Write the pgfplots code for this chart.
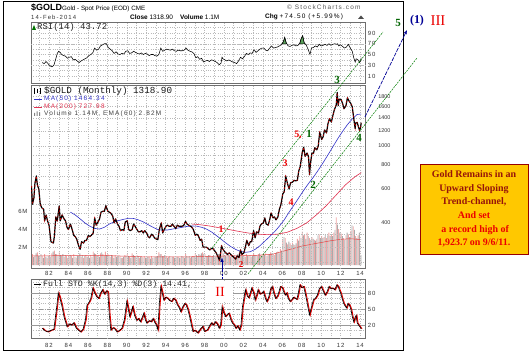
\documentclass[border=0pt]{standalone}
\usepackage{fontspec}
\setmainfont{Liberation Sans}
\newfontfamily\monof{Liberation Mono}
\newfontfamily\lsf[LetterSpace=18]{Liberation Sans}
\newfontfamily\tkf[LetterSpace=15]{Liberation Sans}
\newfontfamily\serifb{Liberation Serif}
\usepackage{pgfplots}
\pgfplotsset{compat=1.18}
\usepackage{pgfplotstable}
\usetikzlibrary{arrows.meta}

\definecolor{maBlue}{RGB}{50,50,200}
\definecolor{maRed}{RGB}{225,50,80}
\definecolor{volPink}{RGB}{240,165,165}
\definecolor{volGray}{RGB}{170,170,170}
\definecolor{emaRed}{RGB}{225,70,70}
\definecolor{annGreen}{RGB}{0,125,0}
\definecolor{lblGreen}{RGB}{0,100,0}
\definecolor{lblRed}{RGB}{235,0,0}
\definecolor{lblBlue}{RGB}{0,0,150}
\definecolor{boxFill}{RGB}{255,200,0}
\definecolor{boxEdge}{RGB}{150,0,0}
\definecolor{darkRed}{RGB}{150,20,10}
\definecolor{rsiGreen}{RGB}{90,160,90}
\definecolor{gridc}{RGB}{185,185,185}
\definecolor{framec}{RGB}{110,110,110}

\pgfplotsset{
 panel/.style={
  scale only axis, width=334bp,
  xmin=1980.148, xmax=2014.51,
  axis line style={framec, line width=0.5pt},
  major tick length=0pt, minor tick length=0pt,
  xtick={1982,1984,...,2014},
  minor xtick={1981,1983,...,2013},
  grid=both,
  major grid style={gridc, dotted, line width=0.4pt},
  minor grid style={gridc, dotted, line width=0.4pt},
  /pgf/number format/assume math mode=true,
  yticklabel pos=right,
  yticklabel style={font=\tkf\fontsize{6}{7}\selectfont, text=black!80, anchor=east, xshift=14bp},
  xticklabels={},
 },
 yearlabels/.style={
  xticklabels={82,84,86,88,90,92,94,96,98,00,02,04,06,08,10,12,14},
  xticklabel style={font=\tkf\fontsize{6}{7}\selectfont, text=black!80}},
}

\pgfplotstableread{
t p
1980.20 620
1980.30 500
1980.45 540
1980.55 640
1980.70 700
1980.80 630
1980.95 600
1981.10 500
1981.25 480
1981.45 470
1981.55 410
1981.70 440
1981.85 410
1982.00 390
1982.20 320
1982.45 315
1982.55 340
1982.70 430
1982.85 410
1983.05 490
1983.15 410
1983.35 440
1983.55 420
1983.70 410
1983.85 380
1984.00 370
1984.20 395
1984.35 375
1984.55 345
1984.70 340
1984.85 330
1985.05 305
1985.20 292
1985.35 320
1985.55 315
1985.70 325
1985.85 325
1986.05 345
1986.20 340
1986.35 345
1986.55 355
1986.70 425
1986.85 390
1987.05 405
1987.20 420
1987.35 455
1987.55 460
1987.70 460
1987.85 492
1988.05 460
1988.20 455
1988.35 450
1988.55 435
1988.70 400
1988.85 420
1989.05 395
1989.20 385
1989.35 365
1989.55 370
1989.70 365
1989.85 405
1990.05 410
1990.20 370
1990.35 365
1990.55 370
1990.70 395
1990.85 385
1991.05 370
1991.20 360
1991.35 360
1991.55 365
1991.70 355
1991.85 365
1992.05 355
1992.20 340
1992.35 335
1992.55 350
1992.70 345
1992.85 335
1993.05 330
1993.20 328
1993.35 370
1993.55 400
1993.70 355
1993.85 370
1994.05 385
1994.20 390
1994.35 385
1994.55 385
1994.70 395
1994.85 385
1995.05 375
1995.20 390
1995.35 385
1995.55 385
1995.70 385
1995.85 388
1996.05 408
1996.20 395
1996.35 390
1996.55 385
1996.70 380
1996.85 370
1997.05 345
1997.20 350
1997.35 345
1997.55 325
1997.70 330
1997.85 300
1998.05 300
1998.20 300
1998.35 295
1998.55 290
1998.70 295
1998.85 295
1999.05 287
1999.20 280
1999.35 270
1999.55 256
1999.75 305
1999.85 295
2000.05 285
2000.20 280
2000.35 275
2000.55 280
2000.70 275
2000.85 270
2001.05 265
2001.20 260
2001.35 270
2001.55 265
2001.70 290
2001.85 275
2002.05 280
2002.20 300
2002.35 325
2002.55 305
2002.70 320
2002.85 320
2003.05 365
2003.20 335
2003.35 360
2003.55 355
2003.70 385
2003.85 395
2004.05 400
2004.20 425
2004.35 395
2004.55 390
2004.70 415
2004.85 450
2005.05 425
2005.20 430
2005.35 415
2005.55 430
2005.70 470
2005.85 495
2006.05 565
2006.20 580
2006.35 700
2006.55 635
2006.70 600
2006.85 645
2007.05 650
2007.20 665
2007.35 660
2007.55 665
2007.70 745
2007.85 785
2008.05 925
2008.20 985
2008.35 885
2008.55 920
2008.70 880
2008.80 710
2008.90 815
2009.05 920
2009.20 915
2009.35 980
2009.55 955
2009.70 1000
2009.85 1180
2010.05 1080
2010.20 1115
2010.35 1210
2010.55 1170
2010.70 1305
2010.85 1385
2011.05 1330
2011.20 1435
2011.35 1535
2011.55 1630
2011.65 1890
2011.75 1620
2011.85 1745
2012.05 1740
2012.20 1660
2012.35 1560
2012.55 1615
2012.70 1775
2012.85 1715
2013.05 1660
2013.20 1595
2013.35 1390
2013.50 1230
2013.55 1315
2013.70 1325
2013.85 1250
2013.95 1205
2014.05 1245
2014.12 1319
}\price

\pgfplotstableread{
t m
1984.20 455
1984.70 440
1985.20 420
1985.70 400
1986.20 385
1986.70 375
1987.20 372
1987.70 380
1988.20 395
1988.70 405
1989.20 412
1989.70 418
1990.20 423
1990.70 422
1991.20 415
1991.70 405
1992.20 392
1992.70 380
1993.20 370
1993.70 367
1994.20 368
1994.70 372
1995.20 376
1995.70 380
1996.20 384
1996.70 386
1997.20 385
1997.70 380
1998.20 372
1998.70 360
1999.20 345
1999.70 330
2000.20 315
2000.70 302
2001.20 292
2001.70 285
2002.20 282
2002.70 284
2003.20 292
2003.70 305
2004.20 322
2004.70 340
2005.20 360
2005.70 385
2006.20 415
2006.70 455
2007.20 495
2007.70 540
2008.20 590
2008.70 640
2009.20 690
2009.70 750
2010.20 820
2010.70 900
2011.20 990
2011.70 1090
2012.20 1190
2012.70 1290
2013.20 1380
2013.70 1455
2014.12 1464
}\maf

\pgfplotstableread{
t m
1996.70 395
1997.50 392
1998.50 386
1999.50 378
2000.50 370
2001.50 362
2002.50 355
2003.50 350
2004.50 348
2005.50 350
2006.50 358
2007.50 375
2008.50 400
2009.50 440
2010.50 490
2011.50 555
2012.50 630
2013.50 695
2014.12 728
}\mas

\pgfplotstableread{
t a b
1980.30 1.2 0.9
1980.55 1.0 1.3
1980.80 1.4 1.0
1981.05 0.9 1.2
1981.30 1.0 0.8
1981.55 1.2 0.9
1981.80 0.8 1.0
1982.05 1.1 0.9
1982.30 1.3 1.5
1982.55 1.6 1.2
1982.80 1.2 1.0
1983.05 1.4 1.1
1983.30 1.0 1.2
1983.55 0.9 1.1
1983.80 1.0 0.8
1984.05 0.9 1.1
1984.30 1.0 0.8
1984.55 1.2 0.9
1984.80 0.8 1.0
1985.05 1.0 1.3
1985.30 0.9 1.1
1985.55 0.8 1.0
1985.80 1.1 0.9
1986.05 1.0 0.8
1986.30 1.1 0.9
1986.55 1.5 1.3
1986.80 1.2 1.0
1987.05 1.1 0.9
1987.30 1.3 1.4
1987.55 1.2 1.0
1987.80 1.5 1.1
1988.05 1.2 1.0
1988.30 0.9 1.1
1988.55 1.0 0.8
1988.80 1.1 0.9
1989.05 0.9 1.0
1989.30 1.0 0.8
1989.55 0.8 0.9
1989.80 1.1 1.0
1990.05 1.2 1.0
1990.30 0.9 0.8
1990.55 1.3 1.1
1990.80 1.0 0.9
1991.05 1.1 1.0
1991.30 0.8 0.9
1991.55 0.9 0.8
1991.80 1.0 0.8
1992.05 0.8 0.9
1992.30 0.9 0.7
1992.55 1.0 0.8
1992.80 0.8 0.9
1993.05 0.9 1.0
1993.30 1.4 1.2
1993.55 1.2 1.0
1993.80 1.0 1.1
1994.05 1.0 0.8
1994.30 0.9 1.0
1994.55 0.8 0.9
1994.80 0.9 0.8
1995.05 0.8 0.9
1995.30 0.9 0.8
1995.55 0.8 1.0
1995.80 0.9 0.8
1996.05 1.2 1.0
1996.30 0.9 1.0
1996.55 0.8 0.9
1996.80 1.0 0.9
1997.05 1.3 1.1
1997.30 1.0 1.2
1997.55 1.1 1.3
1997.80 1.4 1.2
1998.05 1.2 1.0
1998.30 1.0 1.1
1998.55 1.1 0.9
1998.80 1.0 1.1
1999.05 1.0 0.9
1999.30 1.1 1.2
1999.55 1.2 1.0
1999.80 1.6 1.3
2000.05 1.1 1.0
2000.30 0.9 1.1
2000.55 1.0 0.9
2000.80 1.0 1.1
2001.05 1.1 0.9
2001.30 1.0 1.2
2001.55 1.3 1.1
2001.80 1.2 1.0
2002.05 1.1 0.9
2002.30 1.2 1.0
2002.55 1.0 1.1
2002.80 0.9 1.0
2003.05 1.3 1.1
2003.30 1.1 1.0
2003.55 1.2 1.3
2003.80 1.1 1.0
2004.05 1.2 1.1
2004.30 1.3 1.0
2004.55 1.1 1.2
2004.80 1.4 1.3
2005.05 1.2 1.1
2005.30 1.3 1.4
2005.55 1.5 1.3
2005.80 1.8 1.6
2006.05 2.8 3.1
2006.30 3.0 2.5
2006.55 2.3 2.6
2006.80 2.4 2.2
2007.05 2.5 2.3
2007.30 2.2 2.4
2007.55 2.9 2.7
2007.80 3.2 3.0
2008.05 3.7 3.3
2008.30 3.4 2.9
2008.55 3.6 3.2
2008.80 3.0 2.8
2009.05 3.1 2.9
2009.30 2.8 2.7
2009.55 2.9 3.3
2009.80 3.4 3.0
2010.05 3.2 3.0
2010.30 3.1 3.4
2010.55 3.0 3.3
2010.80 3.6 3.2
2011.05 3.4 3.2
2011.30 3.6 3.9
2011.55 5.3 4.5
2011.80 4.0 3.6
2012.05 3.5 3.2
2012.30 3.0 2.8
2012.55 3.3 3.6
2012.80 3.4 3.1
2013.05 3.8 4.4
2013.30 4.3 3.9
2013.55 3.2 3.0
2013.80 3.3 3.6
2013.97 2.5 1.1
}\vol

\pgfplotstableread{
t v
1980.30 1.00
1984.00 1.05
1988.00 1.05
1992.00 0.90
1996.00 0.90
2000.00 1.00
2003.00 1.05
2005.00 1.20
2006.00 1.50
2007.00 1.80
2008.00 2.10
2010.00 2.50
2011.00 2.70
2012.00 2.85
2013.00 2.92
2014.12 2.82
}\volema

\pgfplotstableread{
t r
1981.30 35
1981.50 33
1981.70 37
1981.90 33
1982.10 29
1982.30 27
1982.50 30
1982.70 42
1982.85 52
1983.00 56
1983.15 54
1983.30 50
1983.50 48
1983.70 47
1983.90 43
1984.10 45
1984.30 46
1984.50 40
1984.70 41
1984.90 38
1985.10 35
1985.30 38
1985.50 40
1985.70 42
1985.90 44
1986.10 48
1986.30 50
1986.50 53
1986.70 62
1986.90 58
1987.10 60
1987.30 66
1987.50 68
1987.70 70
1987.90 70
1988.10 63
1988.30 60
1988.50 57
1988.70 52
1988.90 55
1989.10 51
1989.30 50
1989.50 52
1989.70 51
1989.90 56
1990.10 57
1990.30 52
1990.50 53
1990.70 56
1990.90 54
1991.10 52
1991.30 51
1991.50 53
1991.70 50
1991.90 52
1992.10 51
1992.30 48
1992.50 50
1992.70 50
1992.90 48
1993.10 47
1993.30 50
1993.50 62
1993.70 56
1993.90 58
1994.10 60
1994.30 59
1994.50 58
1994.70 60
1994.90 57
1995.10 56
1995.30 58
1995.50 57
1995.70 57
1995.90 58
1996.10 62
1996.30 58
1996.50 56
1996.70 55
1996.90 52
1997.10 44
1997.30 46
1997.50 41
1997.70 43
1997.90 36
1998.10 38
1998.30 39
1998.50 37
1998.70 40
1998.90 39
1999.10 37
1999.30 35
1999.50 31
1999.70 34
1999.80 45
1999.90 42
2000.10 40
2000.30 38
2000.50 40
2000.70 38
2000.90 36
2001.10 35
2001.30 33
2001.50 38
2001.70 45
2001.90 42
2002.10 46
2002.30 52
2002.50 50
2002.70 53
2002.90 52
2003.10 59
2003.30 54
2003.50 57
2003.70 60
2003.90 62
2004.10 62
2004.30 58
2004.50 57
2004.70 62
2004.90 66
2005.10 62
2005.30 63
2005.50 64
2005.70 66
2005.90 68
2006.05 72
2006.15 76
2006.25 82
2006.40 72
2006.60 66
2006.80 65
2007.00 67
2007.20 68
2007.40 66
2007.60 67
2007.80 71
2007.95 80
2008.10 85
2008.25 72
2008.45 68
2008.65 60
2008.85 50
2009.00 62
2009.20 63
2009.40 66
2009.60 64
2009.80 69
2010.00 66
2010.20 67
2010.40 69
2010.60 67
2010.80 70
2011.00 67
2011.20 69
2011.40 70
2011.60 69
2011.70 70
2011.80 66
2012.00 68
2012.20 65
2012.40 62
2012.60 64
2012.80 69
2013.00 62
2013.20 56
2013.35 44
2013.50 36
2013.60 42
2013.80 40
2013.95 35
2014.05 38
2014.12 44
}\rsi

\pgfplotstableread{
t k
1981.30 14
1981.60 9
1981.90 7
1982.20 10
1982.50 12
1982.80 55
1982.95 80
1983.10 72
1983.30 58
1983.55 35
1983.85 17
1984.10 22
1984.30 20
1984.55 24
1984.80 14
1985.05 10
1985.25 7
1985.50 12
1985.75 30
1985.90 57
1986.10 62
1986.30 70
1986.50 89
1986.70 80
1986.90 73
1987.10 70
1987.30 80
1987.50 86
1987.70 78
1987.90 84
1988.05 82
1988.20 40
1988.35 11
1988.60 15
1988.80 12
1989.00 7
1989.25 10
1989.50 14
1989.75 30
1990.00 64
1990.15 50
1990.30 36
1990.45 45
1990.60 54
1990.80 38
1991.00 29
1991.20 32
1991.40 26
1991.60 35
1991.75 42
1991.90 30
1992.05 24
1992.30 28
1992.50 26
1992.70 32
1992.90 24
1993.05 20
1993.20 11
1993.35 60
1993.50 92
1993.65 80
1993.80 67
1994.00 72
1994.20 70
1994.40 66
1994.60 64
1994.80 70
1995.00 67
1995.20 58
1995.40 52
1995.55 45
1995.75 54
1995.95 60
1996.10 58
1996.30 48
1996.50 33
1996.65 20
1996.80 8
1997.00 10
1997.30 5
1997.55 12
1997.80 17
1998.00 8
1998.30 11
1998.50 18
1998.70 24
1998.90 20
1999.10 26
1999.30 22
1999.50 14
1999.65 20
1999.80 54
1999.95 44
2000.15 36
2000.35 40
2000.50 42
2000.70 30
2000.85 24
2001.05 20
2001.20 14
2001.40 18
2001.60 11
2001.75 20
2001.90 54
2002.05 70
2002.20 86
2002.40 74
2002.55 71
2002.70 80
2002.85 89
2003.05 80
2003.20 67
2003.35 75
2003.50 86
2003.70 78
2003.90 80
2004.05 83
2004.25 70
2004.40 64
2004.60 72
2004.80 88
2004.95 92
2005.15 78
2005.30 70
2005.50 74
2005.65 82
2005.80 92
2006.00 90
2006.15 82
2006.30 76
2006.45 80
2006.60 70
2006.80 64
2007.00 68
2007.15 72
2007.30 70
2007.50 68
2007.65 80
2007.80 95
2008.00 90
2008.20 92
2008.35 80
2008.50 67
2008.65 52
2008.80 39
2008.95 50
2009.20 67
2009.40 70
2009.60 76
2009.80 88
2010.00 92
2010.20 84
2010.40 76
2010.60 82
2010.80 92
2011.00 88
2011.20 89
2011.40 86
2011.60 95
2011.75 92
2011.90 84
2012.00 80
2012.15 70
2012.30 61
2012.45 56
2012.60 52
2012.75 60
2012.90 57
2013.05 50
2013.20 36
2013.35 26
2013.50 35
2013.60 38
2013.70 24
2013.85 20
2014.00 16
2014.12 13
}\sto

\begin{document}
\begin{tikzpicture}
\useasboundingbox (0,0) rectangle (532bp,353bp);
\fill[white] (0,0) rectangle (532bp,353bp);

% ---------- volume (behind price) ----------
\begin{axis}[scale only axis, width=334bp, height=183bp, at={(31bp,85bp)}, anchor=south west,
  xmin=1980.148, xmax=2014.51, ymin=-0.333, ymax=20,
  hide x axis, axis y line*=left, y axis line style={draw=none},
  major tick length=0pt,
  ytick={2,4,6}, yticklabels={2M,4M,6M},
  /pgf/number format/assume math mode=true,
  yticklabel style={font=\tkf\fontsize{6}{7}\selectfont, text=black!80}]
 \addplot[ybar, bar width=0.9bp, fill=volPink, draw=none] table[x=t, y=a] {\vol};
 \addplot[ybar, bar width=0.9bp, fill=volGray, draw=none] table[x expr=\thisrow{t}+0.125, y=b] {\vol};
 \addplot[emaRed, line width=0.5pt] table[x=t, y=v] {\volema};
\end{axis}

% ---------- main price panel ----------
\begin{axis}[panel, yearlabels, at={(31bp,85bp)}, anchor=south west, height=183bp,
  ymode=log, ymin=234, ymax=2068,
  ytick={400,600,800,1000,1200,1400,1600,1800},
  yticklabels={400,600,800,1000,1200,1400,1600,1800},
  minor ytick={250,300,350,450,500,700,900},
  yticklabel style={font=\fontsize{5.5}{6}\selectfont, text=black!80, anchor=east, xshift=15bp},
  extra x ticks={1988,2000,2012}, extra x tick labels={},
  extra x tick style={grid style={gray!55, solid, line width=0.4pt}}]
 \addplot[maRed, line width=0.6pt] table[x=t, y=m] {\mas};
 \addplot[maBlue, line width=0.6pt] table[x=t, y=m] {\maf};
 \addplot[black, line width=1.2pt, line join=round] table[x=t, y=p] {\price};
 \addplot[red!85!black, line width=0.55pt, dash pattern=on 1.6pt off 2.4pt] table[x=t, y=p] {\price};
\end{axis}

% ---------- RSI panel ----------
\begin{axis}[panel, at={(31bp,270bp)}, anchor=south west, height=61bp,
  ymin=-3, ymax=110.5, ytick={10,30,50,70,90},
  minor ytick={20,40,60,80,100},
  extra y ticks={30,70}, extra y tick labels={},
  extra y tick style={grid style={gray!80, solid, line width=0.5pt}},
  extra x ticks={1988,2000,2012}, extra x tick labels={},
  extra x tick style={grid style={gray!55, solid, line width=0.4pt}}]
 \addplot[draw=black, line width=0.3pt, fill=rsiGreen] coordinates {(2005.95,70) (2006.05,72) (2006.15,76) (2006.25,82) (2006.40,72) (2006.46,70)} -- cycle;
 \addplot[draw=black, line width=0.3pt, fill=rsiGreen] coordinates {(2007.78,70) (2007.80,71) (2007.95,80) (2008.10,85) (2008.25,72) (2008.30,70)} -- cycle;
 \addplot[black, line width=0.55pt] table[x=t, y=r] {\rsi};
\end{axis}

% ---------- Stochastic panel ----------
\begin{axis}[panel, yearlabels, at={(31bp,15bp)}, anchor=south west, height=59bp,
  ymin=-4.4, ymax=106.25, ytick={20,50,80},
  minor ytick={10,30,40,60,70,90,100},
  xticklabel style={yshift=-2bp},
  extra x ticks={1988,2000,2012}, extra x tick labels={},
  extra x tick style={grid style={gray!55, solid, line width=0.4pt}}]
 \draw[gray!80, line width=0.5pt] (axis cs:1980,20) -- (axis cs:2015,20);
 \draw[gray!80, line width=0.5pt] (axis cs:1980,80) -- (axis cs:2015,80);
 \draw[gray!80, line width=0.5pt, dash pattern=on 4pt off 2pt on 1pt off 2pt] (axis cs:1980,50) -- (axis cs:2015,50);
 \addplot[red!90!black, line width=1.0pt, xshift=0.8bp] table[x=t, y=k] {\sto};
 \addplot[black, line width=0.6pt] table[x=t, y=k] {\sto};
\end{axis}

% ---------- texts and annotations in pixel coordinates ----------
\begin{scope}[x=1bp, y=-1bp, shift={(0bp,353bp)}]
 % header
 \node[anchor=west, inner sep=0, font=\bfseries\fontsize{9}{10}\selectfont] at (31,8) {\$GOLD};
 \node[anchor=west, inner sep=0, font=\fontsize{6.3}{7}\selectfont] at (62,8.5) {Gold - Spot Price (EOD) CME};
 \node[anchor=west, inner sep=0, font=\lsf\fontsize{6}{7}\selectfont, text=black!80] at (31,17) {14-Feb-2014};
 \node[anchor=west, inner sep=0, font=\fontsize{6.5}{7}\selectfont] at (130,17) {\textbf{Close} 1318.90};
 \node[anchor=west, inner sep=0, font=\fontsize{6.5}{7}\selectfont] at (180,17) {\textbf{Volume} 1.1M};
 \node[anchor=west, inner sep=0, font=\fontsize{6.5}{7}\selectfont] at (265,17) {\textbf{Chg} {\lsf +74.50 (+5.99\%)}};
 \fill[black!70] (358,19) -- (364,19) -- (361,15.5) -- cycle;
 \node[anchor=west, inner sep=0, font=\lsf\fontsize{6.5}{7}\selectfont, text=black!65] at (287,7.5) {\textcopyright\ StockCharts.com};
 % panel legends
 \node[anchor=west, inner sep=0, font=\monof\fontsize{9}{10}\selectfont, text=black!85] at (37,27.5) {RSI(14) 43.72};
 \fill[green!45!black] (32,30) -- (34,25) -- (36,30) -- cycle;
 \node[anchor=west, inner sep=0, font=\monof\fontsize{9.3}{10}\selectfont, text=black!90] at (44,91) {\$GOLD (Monthly) 1318.90};
 \draw[black, line width=1pt] (34,88) -- (34,94) (37,89) -- (37,93) (40,88) -- (40,94);
 \draw[maBlue, line width=0.8pt] (34,99) -- (42,99);
 \node[anchor=west, inner sep=0, font=\lsf\fontsize{6.5}{7}\selectfont, text=maBlue] at (44,99) {MA(50) 1464.34};
 \draw[maRed, line width=0.8pt] (34,107) -- (42,107);
 \node[anchor=west, inner sep=0, font=\lsf\fontsize{6.5}{7}\selectfont, text=maRed] at (44,107) {MA(200) 727.98};
 \fill[gray] (34,113) rectangle (35,116) (36.5,111.5) rectangle (37.5,116) (39,112.5) rectangle (40,116);
 \node[anchor=west, inner sep=0, font=\lsf\fontsize{6.5}{7}\selectfont, text=black!75] at (44,114) {Volume 1.14M, EMA(60) 2.82M};
 \draw[black, line width=0.8pt] (34,284) -- (41,284);
 \node[anchor=west, inner sep=0, font=\monof\fontsize{8.3}{9}\selectfont, text=black!85] at (43,284.5) {Full STO \%K(14,3) \%D(3) 14.41,};
 % outer frame
 \draw[black, line width=0.9pt] (3,1) rectangle (403,350);
 % trend channel
 \draw[annGreen, line width=0.5pt, dash pattern=on 2pt off 1pt] (212,248) -- (383,32);
 \draw[annGreen, line width=0.5pt, dash pattern=on 2pt off 1pt] (248,274) -- (417,58);
 % blue projection and arrow
 \draw[lblBlue, line width=0.7pt, dash pattern=on 4pt off 1.2pt, -{Latex[length=4pt,width=3.5pt]}] (365,117) -- (407,30);
 \draw[lblBlue, line width=0.6pt, dash pattern=on 2pt off 1.5pt] (222,286) -- (222,270);
 \draw[lblBlue, line width=0.8pt, -{Latex[length=5pt,width=3.5pt]}] (222,272) -- (222,257);
 % "II" box
 \node[fill=white, inner sep=0, minimum width=28bp, minimum height=20bp] at (219,291) {};
 \node[text=lblRed, font=\serifb\fontsize{14}{14}\selectfont, inner sep=0] at (220,292) {II};
 % wave labels
 \begin{scope}[every node/.style={inner sep=0, font=\serifb\bfseries\fontsize{10}{10}\selectfont}]
  \node[text=lblRed] at (221,229) {1};
  \node[text=lblRed, font=\serifb\bfseries\fontsize{9}{9}\selectfont] at (241,264.5) {2};
  \node[text=lblRed] at (285,163) {3};
  \node[text=lblRed] at (291,202) {4};
  \node[text=lblRed] at (298,135) {5,};
  \node[text=lblGreen, font=\serifb\bfseries\fontsize{11}{11}\selectfont] at (309,134) {1};
  \node[text=lblGreen, font=\serifb\bfseries\fontsize{11}{11}\selectfont] at (313,185) {2};
  \node[text=lblGreen, font=\serifb\bfseries\fontsize{11}{11}\selectfont] at (337,80) {3};
  \node[text=lblGreen, font=\serifb\bfseries\fontsize{11}{11}\selectfont] at (359,138) {4};
  \node[text=lblGreen, font=\serifb\bfseries\fontsize{11}{11}\selectfont] at (398,23) {5};
  \node[text=lblBlue, font=\serifb\bfseries\fontsize{12}{12}\selectfont] at (417,21) {(1)};
  \node[text=lblRed, font=\serifb\fontsize{15}{15}\selectfont] at (438,21) {III};
 \end{scope}
 % text box
 \node[draw=boxEdge, fill=boxFill, line width=0.8pt, minimum width=108bp, minimum height=90bp,
   inner sep=0, align=center, font=\serifb\bfseries\fontsize{10}{13.6}\selectfont] at (474,209)
  {\textcolor{darkRed}{Gold Remains in an}\\
   \textcolor{darkRed}{Upward Sloping}\\
   \textcolor{darkRed}{Trend-channel,}\\
   \textcolor{lblRed}{And set}\\
   \textcolor{lblRed}{\ a record high of}\\
   \textcolor{lblRed}{1,923.7 on 9/6/11.}};
\end{scope}
\end{tikzpicture}
\end{document}
